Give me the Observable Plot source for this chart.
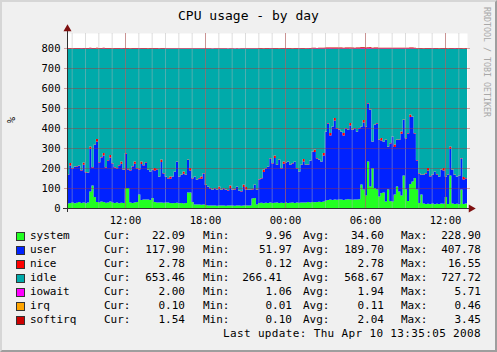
<!DOCTYPE html>
<html><head><meta charset="utf-8">
<script src="https://cdn.jsdelivr.net/npm/d3@7"></script>
<script src="https://cdn.jsdelivr.net/npm/@observablehq/plot@0.6"></script>
<style>
body{margin:0;background:#fff;}
#c{position:relative;width:497px;height:352px;background:#f0f0f0;overflow:hidden;font-family:"DejaVu Sans Mono",monospace;color:#000;}
#c .a{position:absolute;white-space:pre;line-height:14px;height:14px;font-size:11px;}
#frameb{position:absolute;left:0;top:0;width:497px;height:352px;box-sizing:border-box;border-style:solid;border-width:2px;border-color:#d6d6d6 #9e9e9e #9e9e9e #d6d6d6;pointer-events:none;}
</style></head>
<body>
<div id="c"></div>
<script>
const seriesNames = ["system","user","nice","idle","iowait","irq","softirq"];
const seriesColors = ["#22ff22","#0022ff","#ff0000","#00aaaa","#ff00ff","#ffa500","#cc0000"];
const startTime = "2008-04-09T07:39:00Z";
const endTime = "2008-04-10T13:39:00Z";
const stepMinutes = 10;
const xTickTimes = ["2008-04-09T12:00:00Z","2008-04-09T18:00:00Z","2008-04-10T00:00:00Z","2008-04-10T06:00:00Z","2008-04-10T12:00:00Z"];
const xTickLabels = ["12:00","18:00","00:00","06:00","12:00"];
const yTicks = [0,100,200,300,400,500,600,700,800];

const system = [
22,25,28,24,26,30,25,27,24,28, 83,112,55,30,28,33,30,26,28,32,
27,25,28,24,26,25,100,100,28,25, 27,30,67,40,42,42,42,40,50,30,
28,27,28,26,28,27,25,24,25,26, 24,25,23,25,78,78,30,18,17,18,
16,17,15,13,12,13,12,11,12,13, 12,11,12,13,12,11,12,12,11,13,
12,12,13,48,50,18,25,26,24,26, 25,27,25,26,28,25,26,25,27,25,
26,28,25,27,26,28,27,28,30,28, 30,29,30,31,30,33,38,40,42,40,
42,41,43,42,40,42,44,42,41,43, 42,44,117,92,62,233,108,200,100,92,
58,75,78,33,92,35,33,67,108,83, 62,162,92,35,120,133,150,92,25,67,
22,20,21,20,22,19,21,20,22,21, 55,20,162,22,20,21,19,92,20,22,
22];
const user = [
143,188,170,182,182,180,163,189,154,148, 213,91,260,303,200,220,233,177,210,221,
196,178,170,189,195,165,173,93,160,183, 194,168,126,180,171,186,148,141,140,158,
165,129,202,147,128,121,121,132,156,205, 132,140,148,140,162,110,118,138,123,130,
130,156,100,93,86,77,86,79,84,77, 86,79,76,87,78,82,94,74,72,92,
81,78,77,45,65,72,118,122,156,172, 181,221,198,224,187,215,172,196,199,206,
189,195,206,171,155,187,206,187,185,208, 251,251,218,209,201,230,343,383,321,366,
396,357,347,339,323,356,346,371,349,355, 339,354,289,336,344,290,382,131,315,331,
282,263,253,307,214,288,323,238,232,257, 309,278,256,338,335,323,223,146,148,98,
143,153,167,138,143,162,147,136,168,167, 101,145,134,168,145,135,141,156,123,126,
118];
const nice = [
2,12,2,2,2,2,2,12,2,2, 12,2,2,12,2,2,12,2,2,12,
2,2,2,2,12,2,2,2,2,2, 12,2,2,12,2,2,2,2,2,12,
2,2,12,2,2,2,12,2,2,2, 2,2,12,2,2,12,2,2,2,2,
12,2,2,2,2,2,2,2,12,2, 2,2,2,12,2,2,2,2,2,12,
12,2,2,2,2,2,2,2,12,2, 2,2,2,12,2,2,2,12,2,2,
2,2,2,2,2,2,12,2,2,2, 2,12,2,2,2,12,2,2,12,2,
12,2,2,2,12,2,2,12,2,2, 2,2,2,12,2,2,2,2,2,2,
2,12,2,2,2,2,2,12,2,2, 12,2,2,2,12,2,2,2,2,2,
2,2,12,2,2,2,2,2,2,12, 2,2,12,2,2,2,2,2,12,2,
2];
const idle = [
629,571,596,588,586,584,606,568,616,618, 488,591,479,451,566,541,521,591,556,531,
571,591,596,581,563,604,521,601,606,586, 563,596,601,564,581,566,604,613,604,596,
601,638,554,621,638,646,638,638,613,563, 638,629,613,629,554,596,646,638,654,646,
638,621,679,688,696,704,696,704,688,704, 696,704,706,684,704,701,688,708,711,679,
691,704,704,701,679,704,651,646,604,596, 588,546,571,534,579,554,596,563,568,563,
579,571,563,596,613,579,551,579,579,558, 513,504,546,554,563,521,413,371,421,388,
346,396,404,413,421,396,404,371,404,396, 413,396,388,356,388,271,304,463,379,371,
454,446,463,454,488,471,438,479,454,454, 413,354,446,421,329,338,421,556,621,629,
629,621,596,636,629,613,626,638,604,596, 638,629,488,604,629,638,634,546,641,646,
654];
const iowait = [
1.9,2.0,2.1,1.8,2.0,1.9,2.2,2.0,1.7,1.9,2.3,2.0,1.8,2.1,1.9,2.0,2.4,1.9,1.8,2.0,
2.1,1.9,1.7,2.0,2.2,1.8,1.9,2.0,2.1,1.6,1.9,2.0,2.3,1.8,2.0,1.9,2.1,1.7,1.8,2.0,
1.9,1.6,1.5,1.7,1.4,1.6,1.5,1.3,1.6,1.4,1.5,1.2,1.4,1.6,1.3,1.5,1.1,1.2,1.3,1.1,
1.2,1.1,1.3,1.1,1.2,1.1,1.1,1.2,1.1,1.3,1.1,1.2,1.1,1.1,1.2,1.1,1.3,1.1,1.2,1.1,
1.4,1.3,1.5,1.6,1.8,1.9,2.0,1.8,2.1,1.9,2.0,2.2,1.8,2.0,1.9,2.1,2.0,1.8,2.2,2.0,
1.9,2.1,2.0,1.8,2.3,2.0,1.9,2.1,2.2,2.0,2.4,2.6,2.3,2.5,2.8,2.6,3.1,2.9,3.4,2.7,
3.0,2.8,3.2,2.9,2.6,3.0,2.7,3.3,2.8,2.5,2.9,3.1,4.2,3.6,2.8,5.7,4.1,3.0,2.7,2.9,
2.6,2.8,2.4,2.7,2.5,2.3,2.6,2.4,2.8,2.5,2.2,2.6,2.4,2.3,2.7,2.5,2.4,2.1,2.0,1.9,
2.1,1.8,2.0,1.9,2.2,1.8,2.0,2.1,1.9,2.0,1.8,2.1,1.9,2.0,2.2,1.9,2.0,1.8,2.1,2.0,
2.0];
const irq = [
0.1,0.1,0.1,0.1,0.1,0.1,0.1,0.1,0.1,0.1,0.1,0.1,0.1,0.1,0.1,0.1,0.2,0.1,0.1,0.1,
0.1,0.1,0.1,0.1,0.1,0.1,0.1,0.1,0.1,0.1,0.1,0.1,0.1,0.1,0.1,0.1,0.1,0.1,0.1,0.1,
0.1,0.1,0.1,0.1,0.1,0.1,0.1,0.0,0.1,0.1,0.1,0.0,0.1,0.1,0.1,0.1,0.0,0.1,0.1,0.0,
0.1,0.0,0.1,0.0,0.1,0.0,0.0,0.1,0.0,0.1,0.0,0.1,0.0,0.0,0.1,0.0,0.1,0.0,0.1,0.0,
0.1,0.1,0.1,0.1,0.1,0.1,0.1,0.1,0.1,0.1,0.1,0.1,0.1,0.1,0.1,0.1,0.1,0.1,0.1,0.1,
0.1,0.1,0.1,0.1,0.1,0.1,0.1,0.1,0.1,0.1,0.1,0.1,0.1,0.2,0.1,0.1,0.2,0.1,0.2,0.1,
0.2,0.1,0.1,0.2,0.1,0.1,0.2,0.1,0.1,0.1,0.2,0.1,0.4,0.3,0.2,0.5,0.3,0.2,0.1,0.2,
0.1,0.1,0.2,0.1,0.1,0.1,0.2,0.1,0.3,0.2,0.1,0.1,0.1,0.1,0.2,0.1,0.1,0.1,0.1,0.1,
0.1,0.1,0.1,0.1,0.1,0.1,0.1,0.1,0.1,0.1,0.1,0.1,0.1,0.1,0.2,0.1,0.1,0.1,0.1,0.1,
0.1];
const softirq = [
1.8,2.0,1.9,2.1,1.9,2.0,2.2,1.9,1.8,2.0,2.6,2.3,2.4,2.8,2.1,2.2,2.5,1.9,2.1,2.3,
2.0,1.9,1.8,2.0,2.1,1.8,2.6,1.9,1.8,1.9,2.0,1.9,2.1,2.0,1.9,2.0,1.8,1.7,1.9,1.8,
1.8,1.5,1.9,1.6,1.5,1.4,1.5,1.5,1.6,1.8,1.5,1.5,1.6,1.5,1.9,1.7,1.4,1.5,1.3,1.4,
1.4,1.5,1.2,1.1,1.1,1.0,1.1,1.0,1.1,1.0,1.1,1.0,0.9,1.1,1.0,1.0,1.1,0.9,0.9,1.1,
1.0,1.0,1.0,1.2,1.3,1.0,1.4,1.5,1.7,1.8,1.9,2.1,2.0,2.2,1.9,2.1,1.8,2.0,2.0,2.1,
2.0,2.0,2.1,1.8,1.7,2.0,2.1,1.9,1.9,2.1,2.4,2.5,2.2,2.1,2.0,2.4,3.0,3.2,2.9,3.1,
3.3,3.0,3.0,2.9,2.8,3.0,3.0,3.2,3.0,3.0,2.9,3.0,3.2,3.3,3.1,3.4,3.3,2.6,3.1,3.2,
2.8,2.7,2.6,2.8,2.4,2.7,2.9,2.5,2.6,2.7,3.0,3.1,2.7,2.9,3.4,3.3,2.9,1.9,1.7,1.6,
1.6,1.7,1.8,1.5,1.6,1.7,1.6,1.5,1.8,1.8,1.5,1.6,2.1,1.7,1.6,1.5,1.6,1.8,1.5,1.5,
1.5];
const seriesData = [system, user, nice, idle, iowait, irq, softirq];

const legendCur = ["22.09","117.90","2.78","653.46","2.00","0.10","1.54"];
const legendMin = ["9.96","51.97","0.12","266.41","1.06","0.01","0.10"];
const legendAvg = ["34.60","189.70","2.78","568.67","1.94","0.11","2.04"];
const legendMax = ["228.90","407.78","16.55","727.72","5.71","0.46","3.45"];
const titleText = "CPU usage - by day";
const yLabelText = "%";
const sideText = "RRDTOOL / TOBI OETIKER";
const footerText = "Last update: Thu Apr 10 13:35:05 2008";

const t0 = new Date(startTime), t1 = new Date(endTime);
const table = [];
seriesNames.forEach((name, k) => seriesData[k].forEach((v, i) =>
  table.push({t: new Date(+t0 + i * stepMinutes * 60000), v, name})));
const hours = d3.utcHour.range(d3.utcHour.ceil(t0), t1);
const majors = xTickTimes.map(s => new Date(s));
const fmt = d => xTickLabels[majors.findIndex(m => +m === +d)];

const chart = Plot.plot({
  width: 497, height: 230,
  marginLeft: 67, marginRight: 30, marginTop: 33, marginBottom: 22,
  style: {background: "transparent", fontFamily: "DejaVu Sans Mono", fontSize: "10.5px", color: "#000", overflow: "visible"},
  x: {type: "utc", domain: [t0, t1], label: null},
  y: {domain: [0, 875], label: null},
  color: {domain: seriesNames, range: seriesColors},
  marks: [
    Plot.frame({fill: "#ffffff"}),
    Plot.areaY(table, {x: "t", y: "v", z: "name", fill: "name", order: seriesNames, curve: "step-after"}),
    Plot.ruleX(hours, {stroke: "#b4b4b4", strokeOpacity: 0.45}),
    Plot.ruleX(majors, {stroke: "#b03030", strokeOpacity: 0.42}),
    Plot.ruleY(yTicks.slice(1), {stroke: "#b03030", strokeOpacity: 0.42, insetLeft: -3, insetRight: -3}),
    Plot.ruleY([0], {stroke: "#303030", insetLeft: -4, insetRight: -3}),
    Plot.ruleX([t0], {stroke: "#303030", insetTop: -5, insetBottom: -4}),
    Plot.dot([t1], {x: d => new Date(+d + 16 * 60000), y: () => 0, symbol: "triangle", rotate: 90, r: 3, fill: "#7f1010", stroke: null}),
    Plot.dot([t0], {x: d => d, y: () => 898, symbol: "triangle", r: 3, fill: "#7f1010", stroke: null}),
    Plot.axisX({ticks: majors, tickFormat: fmt, tickSize: 0, tickPadding: 8, fontSize: 10.5, label: null}),
    Plot.axisY({ticks: yTicks, tickSize: 0, tickPadding: 7, label: null, fontSize: 10.5})
  ]
});

const c = document.getElementById("c");
chart.style.position = "absolute"; chart.style.left = "0px"; chart.style.top = "0px";
c.appendChild(chart);

function txt(s, css) { const d = document.createElement("div"); d.className = "a"; d.textContent = s; Object.assign(d.style, css); c.appendChild(d); return d; }
txt(titleText, {left: "0px", width: "497px", textAlign: "center", top: "8px", fontSize: "13px", height: "16px", lineHeight: "16px"});
txt(yLabelText, {left: "8px", top: "113px", fontSize: "10.5px", transform: "rotate(-90deg)"});
txt(sideText, {left: "482px", top: "7px", fontSize: "8.3px", color: "#a8a8a8", writingMode: "vertical-rl", height: "auto", lineHeight: "10px"});

seriesNames.forEach((name, k) => {
  const cy = 236 + k * 14;
  const b = document.createElement("div");
  Object.assign(b.style, {position: "absolute", left: "16px", top: (cy - 4) + "px", width: "7px", height: "7px", background: seriesColors[k], border: "1px solid #333"});
  c.appendChild(b);
  const top = (cy - 7) + "px";
  txt(name, {left: "30px", top});
  txt("Cur:", {left: "104px", top});
  txt(legendCur[k], {right: (497 - 185) + "px", top});
  txt("Min:", {left: "203px", top});
  txt(legendMin[k], {right: (497 - (name === "idle" ? 282 : 292)) + "px", top});
  txt("Avg:", {left: "303px", top});
  txt(legendAvg[k], {right: (497 - 384) + "px", top});
  txt("Max:", {left: "401px", top});
  txt(legendMax[k], {right: (497 - 481) + "px", top});
});
txt(footerText, {right: (497 - 481) + "px", top: "327px", letterSpacing: "0.35px"});
const fb = document.createElement("div"); fb.id = "frameb"; c.appendChild(fb);
</script>
</body></html>
